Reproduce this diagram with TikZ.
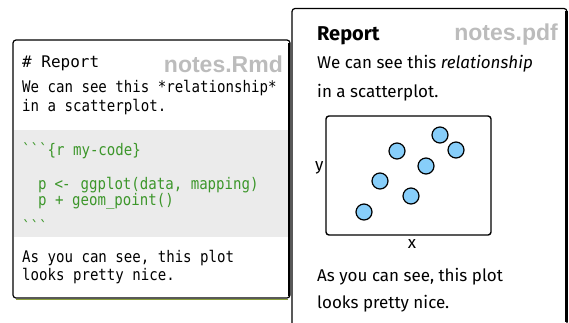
\documentclass[tikz,border=0pt]{standalone}
\usepackage{fontspec}
\setmainfont{Fira Sans}
\newfontfamily\codefont[FakeStretch=0.88,Ligatures=TeXOff]{DejaVu Sans Mono}
\newfontfamily\headfont[Ligatures=TeXOff]{DejaVu Sans Mono}
\newfontfamily\tagfont{Liberation Sans}
\definecolor{codegreen}{RGB}{60,150,42}
\definecolor{chunkgray}{RGB}{235,235,235}
\definecolor{taggray}{RGB}{188,188,188}
\definecolor{dotblue}{RGB}{135,206,250}
\definecolor{edgeolive}{RGB}{140,160,60}
\begin{document}
\frenchspacing
\begin{tikzpicture}[x=1pt,y=-1pt,
  panel/.style={draw=black,line width=1.2pt,rounded corners=3pt,fill=white},
  mono/.style={anchor=base west,inner sep=0pt,font=\codefont\fontsize{16}{18}\selectfont},
  code/.style={mono,text=codegreen},
  prose/.style={anchor=base west,inner sep=0pt,font=\fontsize{17}{20}\selectfont},
  tag/.style={anchor=base east,inner sep=0pt,text=taggray,font=\tagfont\bfseries\fontsize{23}{26}\selectfont},
  dot/.style={circle,draw=black,line width=1.2pt,fill=dotblue,minimum size=16pt,inner sep=0pt}]
\useasboundingbox (0,0) rectangle (569,322);

% ---- source document (R Markdown) ----
\draw[panel] (13,40) rectangle (290,298);
\fill[chunkgray] (13.6,130) rectangle (289.4,237);
\draw[line width=2.4pt] (289.2,43) -- (289.2,296);
\draw[edgeolive,line width=0.9pt] (16,299.6) -- (288,299.6);

\node[anchor=base west,inner sep=0pt,font=\headfont\fontsize{16}{18}\selectfont] (rhead) at (22,67) {\# Report};
\node[tag] (rtag) at (283,72) {notes.Rmd};
\node[mono] (r1) at (22,92) {We can see this *relationship*};
\node[mono] (r2) at (22,111) {in a scatterplot.};
\node[code] (c1) at (22,155) {```\{r my-code\}};
% assignment line, the arrow set as a two-cell ligature
\node[code] (c2a) at (38,189) {p};
\node[code] (c2b) at (54.5,189) {\char"003C};
\node[code] (c2c) at (62,189) {\char"2010};
\node[code] (c2d) at (80.4,189) {ggplot(data, mapping)};
\node[code] (c3) at (38,205) {p + geom\_point()};
\node[code] (c4) at (22,232) {```};
\node[mono] (r3) at (22,262) {As you can see, this plot};
\node[mono] (r4) at (22,280) {looks pretty nice.};

% ---- rendered document (PDF) ----
\draw[panel] (292,8.5) -- (567,8.5) -- (567,340) -- (292,340) -- cycle;
\draw[line width=2.4pt] (566.6,11) -- (566.6,322);

\node[anchor=base west,inner sep=0pt,font=\bfseries\fontsize{20}{23}\selectfont] (phead) at (317,40) {Report};
\node[tag] (ptag) at (558,40) {notes.pdf};
\node[prose] (p1) at (317,68) {We can see this \textit{relationship}};
\node[prose] (p2) at (317,97) {in a scatterplot.};

% scatterplot
\draw[line width=1.4pt,rounded corners=3pt] (326,116) rectangle (491,235);
\node[prose] (ylab) at (315,170) {y};
\node[anchor=base,inner sep=0pt,font=\fontsize{17}{20}\selectfont] (xlab) at (412,248) {x};
\node[dot] (d1) at (364,212) {};
\node[dot] (d2) at (380,181) {};
\node[dot] (d3) at (411,196) {};
\node[dot] (d4) at (397,151) {};
\node[dot] (d5) at (426,166) {};
\node[dot] (d6) at (440,135) {};
\node[dot] (d7) at (456,150) {};

\node[prose] (p3) at (317,281) {As you can see, this plot};
\node[prose] (p4) at (317,308) {looks pretty nice.};
\end{tikzpicture}
\end{document}
